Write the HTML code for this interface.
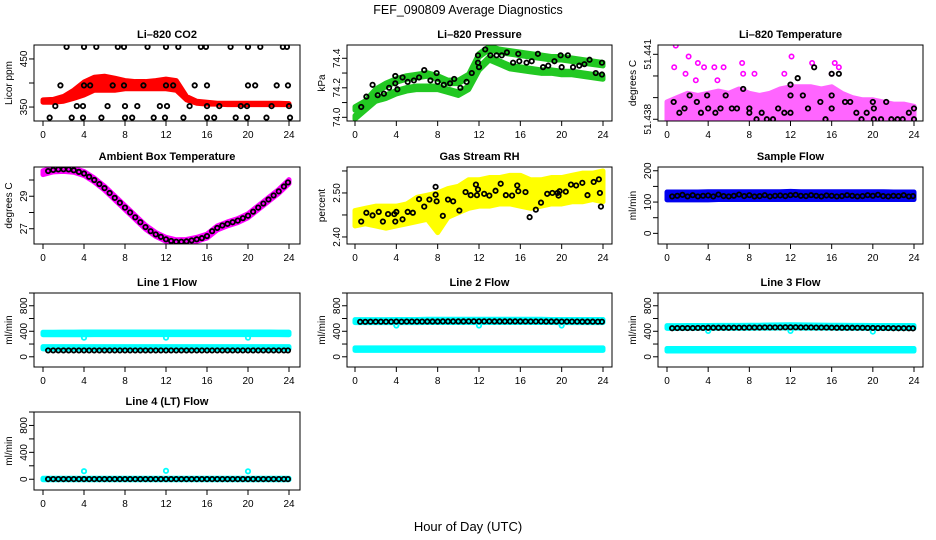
<!DOCTYPE html>
<html><head><meta charset="utf-8"><style>
html,body{margin:0;padding:0;background:#fff;}
svg{display:block;font-family:"Liberation Sans",sans-serif;}
</style></head><body>
<svg id="chart" width="936" height="540" viewBox="0 0 936 540" xmlns="http://www.w3.org/2000/svg">
<text x="468" y="14" font-size="12.5" text-anchor="middle">FEF_090809  Average Diagnostics</text>
<text x="468" y="531" font-size="13" text-anchor="middle">Hour of Day (UTC)</text>
</svg>
<script>
const hours = [0,1,2,3,4,5,6,7,8,9,10,11,12,13,14,15,16,17,18,19,20,21,22,23,24];
const blackHours = [0.5,1,1.5,2,2.5,3,3.5,4,4.5,5,5.5,6,6.5,7,7.5,8,8.5,9,9.5,10,10.5,11,11.5,12,12.5,13,13.5,14,14.5,15,15.5,16,16.5,17,17.5,18,18.5,19,19.5,20,20.5,21,21.5,22,22.5,23,23.5,23.9];
const xTicks = [0,4,8,12,16,20,24];

// Li-820 CO2
const co2Lo = [360,360,362,368,375,385,385,385,388,388,388,388,388,385,365,358,356,356,355,355,355,355,355,355,355];
const co2Hi = [365,366,372,385,402,412,414,410,405,403,403,405,408,405,372,362,360,358,358,358,358,358,358,358,357];
const co2BlackHours = [2.3,4.0,5.2,7.3,7.9,10.2,12.0,13.2,15.4,15.9,18.3,20.0,21.2,23.4,23.8, 1.7,4.0,4.6,6.8,7.9,9.8,12.0,12.7,14.8,16.0,20.0,20.7,22.8,23.9, 1.2,3.3,3.9,6.3,8.0,9.2,11.4,12.1,14.3,16.0,17.2,19.3,19.9,22.3,24.0, 0.65,2.8,3.9,5.7,8.0,8.7,10.8,11.9,13.7,16.0,16.7,18.8,19.9,21.8,24.1];
const co2BlackVals = [475,475,475,475,475,475,475,475,475,475,475,475,475,475,475, 395,395,395,395,395,395,395,395,395,395,395,395,395,395, 352,352,352,352,352,352,352,352,352,352,352,352,352,352,352, 328,328,328,328,328,328,328,328,328,328,328,328,328,328,328];

// Li-820 Pressure
const presUpper = [74.06,74.10,74.18,74.22,74.25,74.27,74.28,74.29,74.27,74.24,74.24,74.28,74.42,74.47,74.45,74.44,74.43,74.42,74.41,74.40,74.40,74.39,74.38,74.37,74.36];
const presLower = [74.00,74.06,74.12,74.14,74.17,74.19,74.20,74.20,74.20,74.18,74.16,74.20,74.33,74.40,74.37,74.34,74.33,74.32,74.31,74.31,74.30,74.30,74.29,74.28,74.27];
const presBlackHours = [0.6,1.1,1.7,2.2,2.8,3.3,3.9,3.9,4.1,4.6,5.1,5.7,6.2,6.7,7.3,7.9,8.0,8.6,9.2,9.6,10.2,10.8,11.3,11.9,11.9,12.0,12.6,13.1,13.7,14.2,14.7,15.3,15.8,15.9,16.6,17.1,17.7,18.2,18.7,19.3,19.9,20.0,20.6,21.1,21.7,22.2,22.7,23.3,23.9,23.9];
const presBlackVals = [74.07,74.14,74.22,74.15,74.16,74.20,74.28,74.23,74.19,74.27,74.24,74.25,74.27,74.32,74.25,74.30,74.24,74.22,74.23,74.26,74.20,74.24,74.30,74.37,74.42,74.34,74.46,74.42,74.42,74.42,74.44,74.37,74.43,74.38,74.37,74.38,74.43,74.34,74.35,74.38,74.42,74.34,74.42,74.34,74.35,74.36,74.39,74.30,74.37,74.29];

// Li-820 Temperature
const tempLo = [51.4378,51.4378,51.4378,51.4378,51.4378,51.4378,51.4378,51.4378,51.4378,51.4378,51.4378,51.4378,51.4378,51.4378,51.4378,51.4378,51.4378,51.4378,51.4378,51.4378,51.4378,51.4378,51.4378,51.4378,51.4378];
const tempHi = [51.4388,51.4390,51.4392,51.4391,51.4392,51.4393,51.4392,51.4394,51.4392,51.4391,51.4392,51.4394,51.4395,51.4395,51.4395,51.4394,51.4395,51.4392,51.4390,51.4389,51.4389,51.4388,51.4387,51.4387,51.4386];
const tempOutHours = [0.85,0.7,2.1,3.0,3.6,4.6,5.5,7.3,7.4,8.5,11.4,12.1,14.1,14.4,16.3,16.7,16.0,1.8,2.8,4.9];
const tempOutVals = [51.4414,51.4404,51.4409,51.4406,51.4404,51.4404,51.4404,51.4406,51.4401,51.4401,51.4401,51.4409,51.4406,51.4419,51.4406,51.4404,51.4401,51.4401,51.4398,51.4398];
const tempBlackHours = [0.65,1.2,1.7,2.2,2.9,3.3,3.9,4.0,4.7,5.2,5.7,6.3,6.8,7.4,8.0,8.0,8.7,9.2,9.7,10.3,10.8,11.4,12.0,12.0,12.0,12.7,13.2,13.7,14.3,14.9,15.4,16.0,16.0,16.0,16.7,17.3,17.8,18.4,18.9,19.4,20.0,20.1,20.1,20.8,21.3,21.8,22.4,22.9,23.5,24.0,24.0];
const tempBlackVals = [51.4388,51.4383,51.4385,51.4391,51.4388,51.4383,51.4391,51.4385,51.4383,51.4385,51.4391,51.4385,51.4385,51.4394,51.4385,51.4383,51.4380,51.4383,51.4380,51.4380,51.4385,51.4383,51.4396,51.4391,51.4383,51.4399,51.4391,51.4385,51.4404,51.4388,51.4380,51.4401,51.4391,51.4385,51.4401,51.4388,51.4388,51.4383,51.4380,51.4383,51.4388,51.4385,51.4380,51.4380,51.4388,51.4380,51.4380,51.4380,51.4383,51.4385,51.4380];

// Ambient Box Temperature
const ambVals = [30.45,30.62,30.65,30.6,30.4,30.0,29.5,28.9,28.3,27.7,27.1,26.65,26.35,26.2,26.22,26.35,26.55,27.05,27.3,27.5,27.8,28.3,28.8,29.3,29.9];
const ambBlackVals = [30.55,30.62,30.65,30.66,30.65,30.6,30.5,30.4,30.2,30.0,29.75,29.5,29.2,28.9,28.6,28.3,28.0,27.7,27.4,27.1,26.85,26.65,26.5,26.35,26.25,26.2,26.2,26.22,26.28,26.35,26.42,26.55,26.85,27.05,27.2,27.3,27.4,27.5,27.65,27.8,28.05,28.3,28.55,28.8,29.05,29.3,29.6,29.85];

// Gas Stream RH
const rhLo = [2.425,2.43,2.425,2.42,2.425,2.43,2.435,2.44,2.41,2.445,2.455,2.465,2.47,2.47,2.475,2.475,2.47,2.465,2.47,2.475,2.475,2.48,2.48,2.485,2.48];
const rhHi = [2.46,2.465,2.47,2.47,2.47,2.475,2.49,2.495,2.50,2.51,2.515,2.53,2.53,2.535,2.535,2.54,2.54,2.53,2.53,2.535,2.535,2.54,2.545,2.545,2.55];
const rhBlackHours = [0.6,1.1,1.7,2.3,2.7,3.2,3.8,3.9,4.0,4.6,5.1,5.6,6.2,6.7,7.2,7.8,7.8,7.9,8.5,9.0,9.5,10.1,10.7,11.2,11.7,11.8,11.9,12.5,13.0,13.6,14.1,14.6,15.2,15.7,15.8,16.5,16.9,17.5,18.0,18.6,19.1,19.6,19.7,19.8,20.4,20.9,21.4,22.0,22.5,23.1,23.6,23.7,23.8];
const rhBlackVals = [2.435,2.455,2.449,2.457,2.435,2.452,2.452,2.435,2.457,2.440,2.457,2.455,2.486,2.469,2.485,2.514,2.496,2.481,2.448,2.485,2.481,2.460,2.502,2.495,2.519,2.495,2.508,2.498,2.494,2.505,2.521,2.495,2.494,2.517,2.504,2.502,2.445,2.462,2.478,2.498,2.500,2.500,2.494,2.504,2.503,2.519,2.517,2.523,2.495,2.525,2.531,2.500,2.469];

// Sample Flow
const sampLo = [107,107,107,107,107,108,108,108,108,108,108,108,108,108,108,108,108,108,108,108,108,108,108,108,108];
const sampHi = [132,132,132,132,133,133,133,133,133,133,133,133,134,133,133,133,133,133,133,133,133,133,132,132,132];
const sampBlackVals = [118,120,123,118,122,118,120,121,118,124,119,118,120,124,119,122,118,119,122,118,120,121,119,122,123,120,119,122,120,118,121,120,118,119,122,120,118,119,122,120,123,119,118,120,119,122,118,119];

// Line 1 Flow
const l1UpLo = [345,345,346,346,346,347,347,347,347,347,347,347,347,347,347,347,347,347,347,347,347,347,347,347,346];
const l1UpHi = [385,385,386,386,388,388,388,388,388,388,388,388,388,388,388,388,388,388,388,388,388,388,388,387,386];
const l1LoLo = [125,125,125,125,125,125,125,125,125,125,125,125,125,125,125,125,125,125,125,125,125,125,125,125,125];
const l1LoHi = [160,160,160,160,160,160,160,160,160,160,160,160,160,160,160,160,160,160,160,160,160,160,160,160,160];
const l1OutHours = [4,12,20];
const l1OutVals = [300,300,300];
const l1BlackVals = [100,100,100,100,100,100,100,100,100,100,100,100,100,100,100,100,100,100,100,100,100,100,100,100,100,100,100,100,100,100,100,100,100,100,100,100,100,100,100,100,100,100,100,100,100,100,100,100];

// Line 2 Flow
const l2UpLo = [535,535,535,535,535,535,535,538,538,538,538,538,538,538,538,538,538,538,538,538,535,535,535,535,535];
const l2UpHi = [582,582,582,582,585,585,585,588,588,588,588,588,588,588,588,588,588,588,588,585,585,585,585,585,585];
const l2LoLo = [100,100,100,100,100,100,100,100,100,100,100,100,100,100,100,100,100,100,100,100,100,100,100,100,100];
const l2LoHi = [140,140,140,140,140,140,140,140,140,140,140,140,140,140,140,140,140,140,140,140,140,140,140,140,140];
const l2OutHours = [4,12,20];
const l2OutVals = [490,490,490];
const l2BlackVals = [548,548,550,550,550,550,550,552,550,552,552,552,552,553,553,553,555,555,555,555,555,556,556,556,556,556,555,555,555,555,555,555,554,554,554,554,553,553,553,552,552,552,552,551,551,551,550,550];

// Line 3 Flow
const l3UpLo = [445,445,447,447,447,448,448,448,448,450,450,452,452,450,450,450,450,448,448,448,446,446,446,446,446];
const l3UpHi = [488,488,490,490,490,492,492,492,495,495,498,500,502,500,498,496,495,494,493,492,490,490,490,490,490];
const l3LoLo = [90,90,90,90,90,90,90,90,90,90,90,90,90,90,90,90,90,90,90,90,90,90,90,90,90];
const l3LoHi = [130,130,130,130,130,130,130,130,130,130,130,130,130,130,130,130,130,130,130,130,130,130,130,130,130];
const l3OutHours = [4,12,20];
const l3OutVals = [405,405,395];
const l3BlackVals = [448,450,450,450,450,452,452,455,455,455,455,455,456,456,456,458,458,458,460,460,460,460,462,462,462,460,460,460,458,458,458,456,455,455,455,455,454,454,452,452,450,450,450,448,448,448,447,446];

// Line 4 (LT) Flow
const l4Lo = [-8,-8,-8,-8,-8,-8,-8,-8,-8,-8,-8,-8,-8,-8,-8,-8,-8,-8,-8,-8,-8,-8,-8,-8,-8];
const l4Hi = [15,15,15,15,15,15,15,15,15,15,15,15,15,15,15,15,15,15,15,15,15,15,15,15,15];
const l4OutHours = [4,12,20];
const l4OutVals = [120,125,118];
const l4BlackVals = [2,2,2,2,2,2,2,2,2,2,2,2,2,2,2,2,2,2,2,2,2,2,2,2,2,2,2,2,2,2,2,2,2,2,2,2,2,2,2,2,2,2,2,2,2,2,2,2];

const NS = "http://www.w3.org/2000/svg";
const svg = document.getElementById('chart');
const cols = [{l:34,r:300,x0:43,x24:289},{l:347,r:612,x0:355,x24:603},{l:658,r:923,x0:667,x24:914}];
const rows = [{t:45,b:121},{t:167,b:244},{t:293,b:367},{t:412,b:490}];

function mk(tag, attrs, parent){
  const e = document.createElementNS(NS, tag);
  for (const k in attrs) e.setAttribute(k, attrs[k]);
  (parent||svg).appendChild(e);
  return e;
}

function makePanel(ci, ri, name, title, ylab, ymin, ymax, ticks, labels){
  const c = cols[ci], r = rows[ri];
  const g = mk('g', {});
  
  
  const xs = h => c.x0 + h/24*(c.x24-c.x0);
  const ys = v => r.b - (v-ymin)/(ymax-ymin)*(r.b-r.t);
  const clipId = 'clip-' + name;
  const cp = mk('clipPath', {id: clipId}, g);
  mk('rect', {x:c.l, y:r.t, width:c.r-c.l, height:r.b-r.t}, cp);
  const plot = mk('g', {'clip-path':'url(#'+clipId+')'}, g);
  
  
  const tt = mk('text', {x:(c.l+c.r)/2, y:r.t-7, 'font-size':11, 'font-weight':'bold', 'text-anchor':'middle'}, g);
  tt.textContent = title;
  
  
  const yl = mk('text', {x:0, y:0, 'font-size':10, 'text-anchor':'middle', transform:'translate('+(c.l-22)+','+((r.t+r.b)/2)+') rotate(-90)'}, g);
  yl.textContent = ylab;
  
  
  ticks.forEach((tv, i) => {
    const y = ys(tv);
    const tk = mk('line', {x1:c.l-5, x2:c.l, y1:y, y2:y, stroke:'#000', 'stroke-width':1}, g);
    
    
    if (labels[i]) {
      const lt = mk('text', {x:0, y:0, 'font-size':10, 'text-anchor':'middle', transform:'translate('+(c.l-7)+','+y+') rotate(-90)'}, g);
      lt.textContent = labels[i];
      
      
    }
  });
  xTicks.forEach(h => {
    const x = xs(h);
    const tk = mk('line', {x1:x, x2:x, y1:r.b, y2:r.b+5, stroke:'#000', 'stroke-width':1}, g);
    
    
    const lt = mk('text', {x:x, y:r.b+17, 'font-size':10, 'text-anchor':'middle'}, g);
    lt.textContent = String(h);
    
    
  });
  const box = mk('rect', {x:c.l, y:r.t, width:c.r-c.l, height:r.b-r.t, fill:'none', stroke:'#000', 'stroke-width':1}, g);
  
  
  return {plot, xs, ys, name};
}

function band(p, xh, lo, hi, color, opacity){
  let pts = [];
  for (let i=0;i<xh.length;i++) pts.push(p.xs(xh[i])+','+p.ys(hi[i]));
  for (let i=xh.length-1;i>=0;i--) pts.push(p.xs(xh[i])+','+p.ys(lo[i]));
  const poly = mk('polygon', {points:pts.join(' '), fill:color, stroke:color, 'stroke-width':5, 'stroke-linejoin':'round', opacity:opacity||1}, p.plot);
  
  
}

function points(p, xh, vals, color, sw, label){
  for (let i=0;i<xh.length;i++){
    const c = mk('circle', {cx:p.xs(xh[i]), cy:p.ys(vals[i]), r:2.2, fill:'none', stroke:color, 'stroke-width':sw||1.6}, p.plot);
    
    
  }
}

let p = makePanel(0,0,'co2','Li\u2013820 CO2','Licor ppm',321,479,[350,400,450],['350','','450']);
band(p, hours, co2Lo, co2Hi, '#ff0000');
points(p, co2BlackHours, co2BlackVals, '#000', 1.8, 'hourly');

p = makePanel(1,0,'pressure','Li\u2013820 Pressure','kPa',73.975,74.49,[74.0,74.1,74.2,74.3,74.4],['74.0','','74.2','','74.4']);
band(p, hours, presUpper.map(v=>v-0.012), presUpper.map(v=>v+0.012), '#22c822');
band(p, hours, presLower.map(v=>v-0.012), presLower.map(v=>v+0.012), '#22c822');
points(p, presBlackHours, presBlackVals, '#000', 1.8, 'hourly');

p = makePanel(2,0,'li820-temperature','Li\u2013820 Temperature','degrees C',51.43792,51.44143,[51.438,51.439,51.44,51.441],['51.438','','','51.441']);
band(p, hours, tempLo, tempHi, '#ff00ff', 0.6);
points(p, tempOutHours, tempOutVals, '#ff00ff', 1.6, 'minute');
points(p, tempBlackHours, tempBlackVals, '#000', 1.8, 'hourly');

p = makePanel(0,1,'ambient','Ambient Box Temperature','degrees C',26.06,30.8,[27,28,29,30],['27','','29','']);
band(p, hours, ambVals.map(v=>v-0.12), ambVals.map(v=>v+0.12), '#ff00ff');
points(p, blackHours, ambBlackVals, '#000', 1.8, 'hourly');

p = makePanel(1,1,'rh','Gas Stream RH','percent',2.384,2.559,[2.40,2.45,2.50,2.55],['2.40','','2.50','']);
band(p, hours, rhLo, rhHi, '#ffff00');
points(p, rhBlackHours, rhBlackVals, '#000', 1.8, 'hourly');

p = makePanel(2,1,'sample-flow','Sample Flow','ml/min',-34,212,[0,50,100,150,200],['0','','100','','200']);
band(p, hours, sampLo, sampHi, '#0000ee');
points(p, blackHours, sampBlackVals, '#000', 1.8, 'hourly');

const flowTicks = [0,200,400,600,800,1000];
const flowLabels = ['0','','400','','800',''];
p = makePanel(0,2,'line1-flow','Line 1 Flow','ml/min',-160,1000,flowTicks,flowLabels);
band(p, hours, l1UpLo, l1UpHi, '#00ffff');
band(p, hours, l1LoLo, l1LoHi, '#00ffff');
points(p, l1OutHours, l1OutVals, '#00ffff', 1.8, 'minute');
points(p, blackHours, l1BlackVals, '#000', 1.8, 'hourly');

p = makePanel(1,2,'line2-flow','Line 2 Flow','ml/min',-160,1000,flowTicks,flowLabels);
band(p, hours, l2UpLo, l2UpHi, '#00ffff');
band(p, hours, l2LoLo, l2LoHi, '#00ffff');
points(p, l2OutHours, l2OutVals, '#00ffff', 1.8, 'minute');
points(p, blackHours, l2BlackVals, '#000', 1.8, 'hourly');

p = makePanel(2,2,'line3-flow','Line 3 Flow','ml/min',-160,1000,flowTicks,flowLabels);
band(p, hours, l3UpLo, l3UpHi, '#00ffff');
band(p, hours, l3LoLo, l3LoHi, '#00ffff');
points(p, l3OutHours, l3OutVals, '#00ffff', 1.8, 'minute');
points(p, blackHours, l3BlackVals, '#000', 1.8, 'hourly');

p = makePanel(0,3,'line4-flow','Line 4 (LT) Flow','ml/min',-160,1000,flowTicks,flowLabels);
band(p, hours, l4Lo, l4Hi, '#00ffff');
points(p, l4OutHours, l4OutVals, '#00ffff', 1.8, 'minute');
points(p, blackHours, l4BlackVals, '#000', 1.8, 'hourly');
</script>
</body></html>
